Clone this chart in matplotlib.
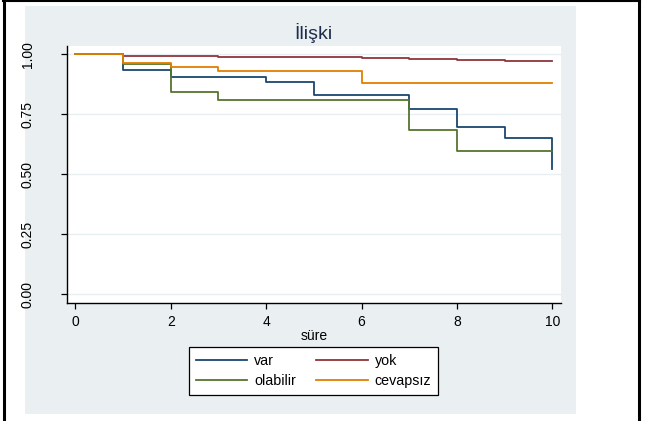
import matplotlib
matplotlib.use("Agg")
import matplotlib.pyplot as plt
from matplotlib.patches import Rectangle
from matplotlib.lines import Line2D

plt.rcParams['font.family'] = ['Liberation Sans', 'DejaVu Sans']

# Kaplan-Meier survival estimates by group
sure = [0, 1, 2, 3, 4, 5, 6, 7, 8, 9, 10]
var = [1.0, 0.935, 0.905, 0.905, 0.883, 0.832, 0.832, 0.771, 0.698, 0.651, 0.521]
yok = [1.0, 0.994, 0.992, 0.989, 0.989, 0.987, 0.983, 0.980, 0.978, 0.972, 0.972]
olabilir = [1.0, 0.960, 0.844, 0.808, 0.808, 0.808, 0.808, 0.683, 0.597, 0.597, 0.597]
cevapsiz = [1.0, 0.965, 0.948, 0.930, 0.930, 0.930, 0.882, 0.882, 0.882, 0.882, 0.882]

groups = ["var", "yok", "olabilir", "cevapsız"]
series = [var, yok, olabilir, cevapsiz]
colors = ["#1a476f", "#90353b", "#55752f", "#e37e00"]

x_ticks = [0, 2, 4, 6, 8, 10]
y_ticks = [0.0, 0.25, 0.5, 0.75, 1.0]
y_labels = ["0.00", "0.25", "0.50", "0.75", "1.00"]

W, H = 656, 421
fig = plt.figure(figsize=(W / 100, H / 100), dpi=100)
fig.patch.set_facecolor("white")

def fx(px):
    return px / W

def fy(py):
    return 1 - py / H

# graph region background
fig.patches.append(Rectangle((fx(25), fy(414)), fx(576) - fx(25), fy(6) - fy(414),
                             transform=fig.transFigure, facecolor="#eaf0f2",
                             edgecolor="none", zorder=-10))
# outer frame
fig.lines.append(Line2D([fx(4), fx(4)], [0, 1], transform=fig.transFigure,
                        color="black", lw=2.2, zorder=5))
fig.lines.append(Line2D([fx(639), fx(639)], [0, 1], transform=fig.transFigure,
                        color="black", lw=2.2, zorder=5))
fig.lines.append(Line2D([fx(3), fx(640)], [fy(0.7), fy(0.7)], transform=fig.transFigure,
                        color="black", lw=1.5, zorder=5))

ax = fig.add_axes([fx(67), fy(303), fx(561) - fx(67), fy(46) - fy(303)])
ax.set_facecolor("white")

handles = {}
for vals, name, c in zip(series, groups, colors):
    (ln,) = ax.step(sure, vals, where="post", color=c, lw=1.3, label=name, zorder=3)
    handles[name] = ln

ax.set_xlim(-0.174, 10.18)
ax.set_ylim(-0.0375, 1.0346)

ax.set_yticks(y_ticks)
ax.set_yticklabels(y_labels, rotation=90, va="center")
ax.set_xticks(x_ticks)
ax.grid(axis="y", color="#e8eff2", lw=1.0, zorder=0)

for s in ["top", "right"]:
    ax.spines[s].set_visible(False)
for s in ["left", "bottom"]:
    ax.spines[s].set_linewidth(1.0)
    ax.spines[s].set_color("black")

ax.tick_params(axis="both", direction="out", length=4.3, width=0.9,
               labelsize=10, colors="black")
ax.tick_params(axis="y", pad=19)
ax.tick_params(axis="x", pad=4)

ax.set_xlabel("süre", fontsize=10, labelpad=0)
fig.text(fx(313.5), fy(33), "İlişki", ha="center", va="center",
         fontsize=14, color="#1e2c4c")

# row-wise legend: var / yok on top, olabilir / cevapsız below
order = ["var", "olabilir", "yok", "cevapsız"]
leg = ax.legend([handles[k] for k in order], order,
                loc="center", bbox_to_anchor=(fx(313.5), fy(371.2)),
                bbox_transform=fig.transFigure, ncol=2, fontsize=10.3,
                handlelength=3.6, handletextpad=0.5, columnspacing=1.4,
                borderpad=0.45, labelspacing=0.46, fancybox=False,
                frameon=True, framealpha=1)
leg.get_frame().set_edgecolor("black")
leg.get_frame().set_linewidth(0.9)
for h in leg.get_lines():
    h.set_linewidth(1.3)

fig.savefig("out.png", dpi=100)
